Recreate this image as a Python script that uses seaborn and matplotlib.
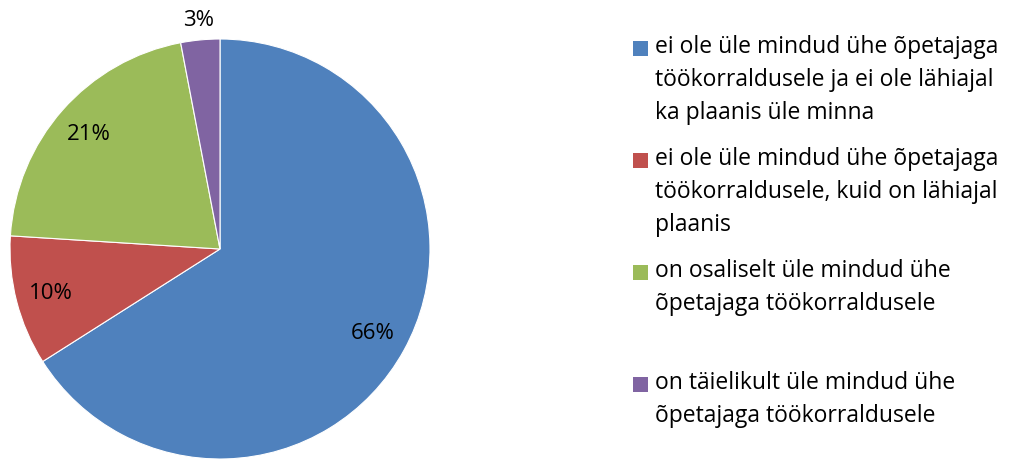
import matplotlib
matplotlib.use("Agg")
import matplotlib.pyplot as plt
import matplotlib.patches as mpatches
import seaborn as sns
import numpy as np

sns.set_theme(style="white")
plt.rcParams["font.family"] = ["Open Sans", "DejaVu Sans"]

labels = [
    "ei ole üle mindud ühe õpetajaga\ntöökorraldusele ja ei ole lähiajal\nka plaanis üle minna",
    "ei ole üle mindud ühe õpetajaga\ntöökorraldusele, kuid on lähiajal\nplaanis",
    "on osaliselt üle mindud ühe\nõpetajaga töökorraldusele",
    "on täielikult üle mindud ühe\nõpetajaga töökorraldusele",
]
values = [66, 10, 21, 3]
colors = sns.color_palette(["#4F81BD", "#C0504D", "#9BBB59", "#8064A2"])

fig = plt.figure(figsize=(10.14, 4.6), dpi=100)
ax = fig.add_axes([10 / 1014, 0, 420 / 1014, 420 / 460])

wedges, texts, autotexts = ax.pie(
    values, colors=colors, startangle=90, counterclock=False,
    autopct="%1.0f%%", pctdistance=0.83, radius=1,
    wedgeprops={"edgecolor": "white", "linewidth": 0.8},
    textprops={"fontsize": 16, "color": "black"},
)
# small slice label goes outside
w = wedges[3]
ang = np.deg2rad((w.theta1 + w.theta2) / 2)
autotexts[3].set_position((1.1 * np.cos(ang), 1.1 * np.sin(ang)))

ax.set_xlim(-1, 1)
ax.set_ylim(-1, 1)
ax.set_aspect("equal")
ax.axis("off")

# legend, Excel style: squares aligned with first line
y0 = 1 - 49 / 460
step = 112 / 460
for i, (lab, col) in enumerate(zip(labels, colors)):
    y = y0 - i * step
    fig.patches.append(mpatches.Rectangle((633 / 1014, y - 8 / 460), 15 / 1014, 15 / 460,
                                          transform=fig.transFigure, facecolor=col,
                                          edgecolor="none"))
    fig.text(655 / 1014, y + 14 / 460, lab, fontsize=16.5, va="top", ha="left",
             linespacing=1.5, color="black")

fig.savefig("out.png", dpi=100)
